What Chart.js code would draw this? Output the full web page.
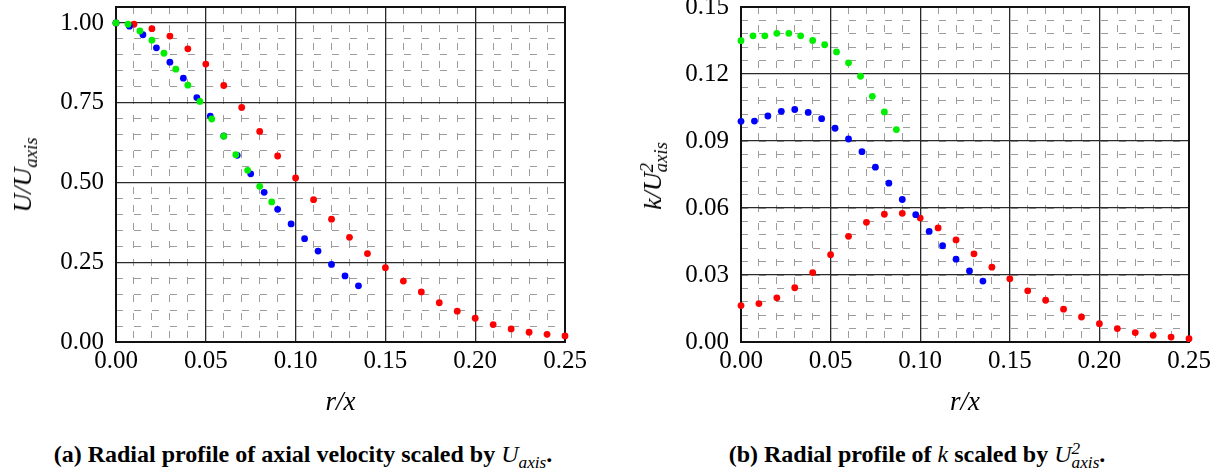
<!DOCTYPE html>
<html>
<head>
<meta charset="utf-8">
<script src="https://cdn.jsdelivr.net/npm/chart.js@4.4.1/dist/chart.umd.min.js"></script>
<style>
body { margin: 0; background: #fff; width: 1220px; height: 476px; position: relative; overflow: hidden; font-family: "Liberation Serif", serif; color: #000; }
.panel { position: absolute; top: 0; width: 610px; height: 420px; }
.ytitle { position: absolute; font-style: italic; font-size: 26px; line-height: 1; white-space: nowrap; transform: translate(-50%, -50%) rotate(-90deg); }
.caption { position: absolute; top: 454px; font-weight: bold; font-size: 24px; line-height: 1; white-space: nowrap; transform: translate(-50%, -50%); }
.math { font-style: italic; font-weight: normal; }
sub.s { font-size: 0.72em; vertical-align: -0.32em; line-height: 0; }
sup.p { font-size: 0.72em; vertical-align: 0.45em; line-height: 0; display: inline-block; width: 0; }
</style>
</head>
<body>
<div class="panel" style="left:0"><canvas id="chartU" width="610" height="420"></canvas></div>
<div class="panel" style="left:610px"><canvas id="chartK" width="610" height="420"></canvas></div>

<div class="ytitle" style="left:23px; top:175px">U/U<sub class="s">axis</sub></div>
<div class="ytitle" style="left:653px; top:176px">k/U<sup class="p">2</sup><sub class="s">axis</sub></div>

<div class="caption" style="left:303px">(a) Radial profile of axial velocity scaled by <span class="math">U<sub class="s">axis</sub></span>.</div>
<div class="caption" style="left:917px">(b) Radial profile of <span class="math">k</span> scaled by <span class="math">U<sup class="p">2</sup><sub class="s">axis</sub></span>.</div>

<script>
// r/x positions of the three data sets
const rGreen = [0, 0.0067, 0.0133, 0.02, 0.0267, 0.0333, 0.04, 0.0467, 0.0533, 0.06, 0.0667, 0.0733, 0.08, 0.0867];
const rBlue = [0, 0.0075, 0.015, 0.0225, 0.03, 0.0375, 0.045, 0.0525, 0.06, 0.0675, 0.075, 0.0825, 0.09, 0.0975, 0.105, 0.1125, 0.12, 0.1275, 0.135];
const rRed = [0, 0.01, 0.02, 0.03, 0.04, 0.05, 0.06, 0.07, 0.08, 0.09, 0.10, 0.11, 0.12, 0.13, 0.14, 0.15, 0.16, 0.17, 0.18, 0.19, 0.20, 0.21, 0.22, 0.23, 0.24, 0.25];

// (a) U/U_axis
const uGreen = [1.000, 0.996, 0.975, 0.946, 0.905, 0.855, 0.805, 0.754, 0.699, 0.645, 0.587, 0.538, 0.488, 0.439];
const uBlue = [1.000, 0.990, 0.963, 0.922, 0.877, 0.827, 0.766, 0.708, 0.646, 0.585, 0.527, 0.469, 0.416, 0.370, 0.324, 0.285, 0.243, 0.207, 0.176];
const uRed = [1.000, 0.996, 0.982, 0.959, 0.919, 0.871, 0.804, 0.735, 0.660, 0.583, 0.514, 0.446, 0.385, 0.328, 0.277, 0.233, 0.191, 0.157, 0.123, 0.0965, 0.0745, 0.0545, 0.041, 0.0305, 0.024, 0.019];

// (b) k/U_axis^2
const kGreen = [0.1349, 0.1371, 0.1371, 0.1382, 0.1382, 0.1371, 0.1350, 0.1331, 0.1299, 0.1250, 0.1190, 0.1100, 0.1030, 0.0951];
const kBlue = [0.0988, 0.0989, 0.1012, 0.1033, 0.1041, 0.1028, 0.1000, 0.0957, 0.0909, 0.0852, 0.0783, 0.0711, 0.0638, 0.0570, 0.0495, 0.0431, 0.0371, 0.0318, 0.0273];
const kRed = [0.0163, 0.0172, 0.0198, 0.0243, 0.0311, 0.0391, 0.0473, 0.0536, 0.0572, 0.0576, 0.0555, 0.0511, 0.0457, 0.0395, 0.0335, 0.0283, 0.0229, 0.0187, 0.0147, 0.0112, 0.0082, 0.0060, 0.0042, 0.0030, 0.0022, 0.0015];

const xTicks = [0, 0.05, 0.10, 0.15, 0.20, 0.25];
const uTicks = [0, 0.25, 0.50, 0.75, 1.00];
const kTicks = [0, 0.03, 0.06, 0.09, 0.12, 0.15];

const pts = (xs, ys) => xs.map((x, i) => ({ x: x, y: ys[i] }));

// box around the plot area, under the points
const framePlugin = {
    id: 'frame',
    beforeDatasetsDraw(chart) {
        const a = chart.chartArea, ctx = chart.ctx;
        ctx.save();
        ctx.strokeStyle = '#111';
        ctx.lineWidth = 2;
        ctx.strokeRect(a.left, a.top, a.right - a.left, a.bottom - a.top);
        ctx.restore();
    }
};

function makeChart(id, series, yMax, yTicks, yMinorStep, yWidth, padRight) {
    const tickFont = { family: 'Liberation Serif', size: 25 };
    const ds = (data, color) => ({
        data: data, backgroundColor: color, borderWidth: 0,
        pointRadius: 3.4, showLine: false, clip: false
    });
    return new Chart(document.getElementById(id), {
        type: 'scatter',
        data: {
            datasets: [
                ds(series[0], '#00ee00'),
                ds(series[1], '#0000ff'),
                ds(series[2], '#ff0000')
            ]
        },
        options: {
            responsive: false,
            animation: false,
            layout: { padding: { left: 0, right: padRight, top: 7, bottom: 0 } },
            plugins: { legend: { display: false }, tooltip: { enabled: false } },
            scales: {
                xMinor: {
                    type: 'linear', position: 'bottom', min: 0, max: 0.25,
                    ticks: { display: false, stepSize: 0.01 },
                    grid: { color: '#9c9c9c', lineWidth: 1, drawTicks: false },
                    border: { display: false, dash: [7, 11], dashOffset: 0 },
                    afterFit(s) { s.height = 0; s.paddingLeft = 0; s.paddingRight = 0; }
                },
                yMinor: {
                    type: 'linear', position: 'left', min: 0, max: yMax,
                    ticks: { display: false, stepSize: yMinorStep },
                    grid: { color: '#9c9c9c', lineWidth: 1, drawTicks: false },
                    border: { display: false, dash: [7, 11], dashOffset: 0 },
                    afterFit(s) { s.width = 0; s.paddingTop = 0; s.paddingBottom = 0; }
                },
                x: {
                    type: 'linear', position: 'bottom', min: 0, max: 0.25,
                    afterBuildTicks(s) { s.ticks = xTicks.map(v => ({ value: v })); },
                    ticks: { color: '#000', font: tickFont, padding: 4, maxRotation: 0, autoSkip: false,
                        callback: v => v.toFixed(2) },
                    grid: { color: '#2a2a2a', lineWidth: 1.3, drawTicks: false },
                    border: { display: true, color: '#111', width: 2 },
                    title: { display: true, text: 'r/x', color: '#000',
                        font: { family: 'Liberation Serif', size: 27, style: 'italic' },
                        padding: { top: 0, bottom: 1 } },
                    afterFit(s) { s.height = 78; s.paddingLeft = 0; s.paddingRight = 0; }
                },
                y: {
                    type: 'linear', position: 'left', min: 0, max: yMax,
                    afterBuildTicks(s) { s.ticks = yTicks.map(v => ({ value: v })); },
                    ticks: { color: '#000', font: tickFont, padding: 12, autoSkip: false,
                        callback: v => v.toFixed(2) },
                    grid: { color: '#2a2a2a', lineWidth: 1.3, drawTicks: false },
                    border: { display: true, color: '#111', width: 2 },
                    afterFit(s) { s.width = yWidth; s.paddingTop = 0; s.paddingBottom = 0; }
                }
            }
        },
        plugins: [framePlugin]
    });
}

makeChart('chartU',
    [pts(rGreen, uGreen), pts(rBlue, uBlue), pts(rRed, uRed)],
    1.05, uTicks, 0.05, 116, 45);

makeChart('chartK',
    [pts(rGreen, kGreen), pts(rBlue, kBlue), pts(rRed, kRed)],
    0.15, kTicks, 0.006, 131, 31);
</script>
</body>
</html>
